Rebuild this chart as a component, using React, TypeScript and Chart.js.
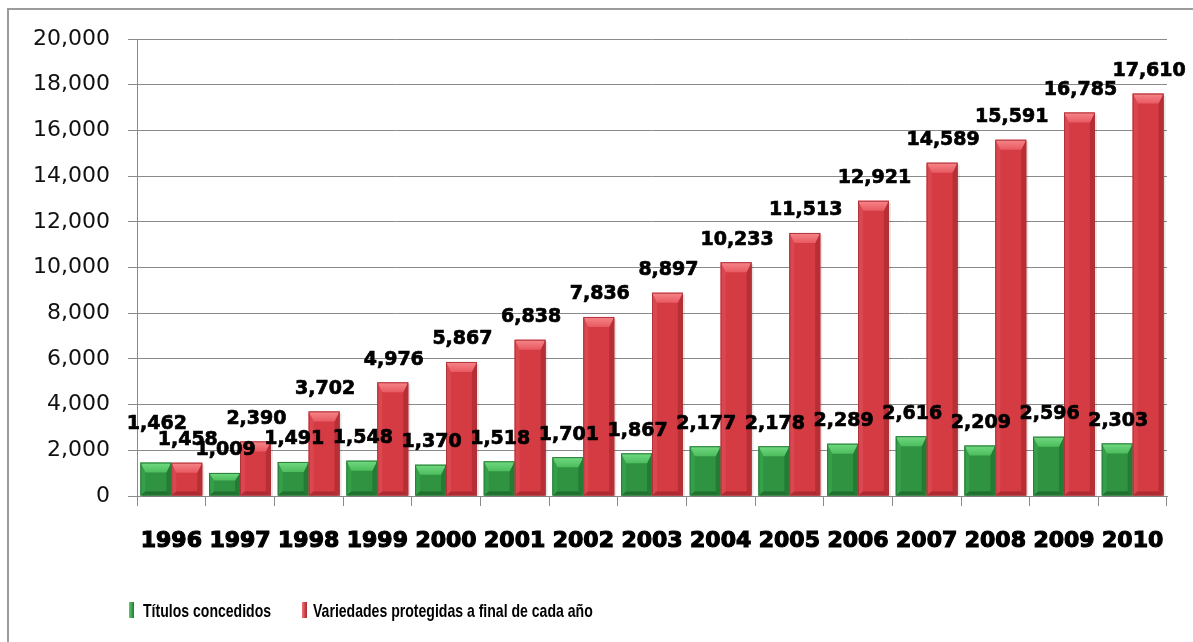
import React, { useEffect, useRef } from "react";
import { Chart, registerables } from "chart.js";

Chart.register(...registerables);

const years = ["1996", "1997", "1998", "1999", "2000", "2001", "2002", "2003", "2004", "2005", "2006", "2007", "2008", "2009", "2010"];
const titulos = [1462, 1009, 1491, 1548, 1370, 1518, 1701, 1867, 2177, 2178, 2289, 2616, 2209, 2596, 2303];
const variedades = [1458, 2390, 3702, 4976, 5867, 6838, 7836, 8897, 10233, 11513, 12921, 14589, 15591, 16785, 17610];
const yTicks = [0, 2000, 4000, 6000, 8000, 10000, 12000, 14000, 16000, 18000, 20000];
const seriesNames = ["Títulos concedidos", "Variedades protegidas a final de cada año"];

const GREEN = "#2f9342";
const RED = "#d43b43";
const shades = [
  { top: "#72da82", topEnd: "#4cbd5d", left: "#35a04a", right: "#247c34", bottom: "#216f2f", edge: "#2a7d38" },
  { top: "#f6878b", topEnd: "#e85a61", left: "#da4750", right: "#b82e35", bottom: "#ad2a31", edge: "#b0333a" },
];

const fmt = (v: number) => v.toLocaleString("en-US");

const bevelPlugin = {
  id: "bevel",
  beforeDatasetsDraw(chart: any) {
    const ctx = chart.ctx;
    ctx.save();
    chart.data.datasets.forEach((_: any, di: number) => {
      const meta = chart.getDatasetMeta(di);
      meta.data.forEach((bar: any) => {
        const l = bar.x - bar.width / 2;
        const t = bar.y;
        ctx.fillStyle = "rgba(0,0,0,0.10)";
        ctx.fillRect(l + 2, t + 2, bar.width, bar.base - t - 1);
      });
    });
    ctx.restore();
  },
  afterDatasetsDraw(chart: any) {
    const ctx = chart.ctx;
    ctx.save();
    chart.data.datasets.forEach((_: any, di: number) => {
      const meta = chart.getDatasetMeta(di);
      const s = shades[di];
      meta.data.forEach((bar: any) => {
        const l = bar.x - bar.width / 2;
        const r = bar.x + bar.width / 2;
        const t = bar.y;
        const b = bar.base;
        const ins = 5;
        const th = Math.min(10, (b - t) / 3);
        const bh = Math.min(4, (b - t) / 4);
        const poly = (pts: number[][], color: any) => {
          ctx.beginPath();
          ctx.moveTo(pts[0][0], pts[0][1]);
          for (let i = 1; i < pts.length; i++) ctx.lineTo(pts[i][0], pts[i][1]);
          ctx.closePath();
          ctx.fillStyle = color;
          ctx.fill();
        };
        poly([[l, t], [l + ins, t + th], [l + ins, b - bh], [l, b]], s.left);
        poly([[r, t], [r - ins, t + th], [r - ins, b - bh], [r, b]], s.right);
        poly([[l, b], [l + ins, b - bh], [r - ins, b - bh], [r, b]], s.bottom);
        const g = ctx.createLinearGradient(0, t, 0, t + th);
        g.addColorStop(0, s.top);
        g.addColorStop(1, s.topEnd);
        poly([[l, t], [r, t], [r - ins, t + th], [l + ins, t + th]], g);
        ctx.strokeStyle = s.edge;
        ctx.lineWidth = 1;
        ctx.strokeRect(l + 0.5, t + 0.5, r - l - 1, b - t - 1);
      });
    });
    ctx.restore();
  },
};

const labelPlugin = {
  id: "valueLabels",
  afterDraw(chart: any) {
    const ctx = chart.ctx;
    ctx.save();
    ctx.font = "bold 19px 'DejaVu Sans'";
    ctx.textAlign = "center";
    ctx.textBaseline = "bottom";
    ctx.fillStyle = "#000";
    ctx.strokeStyle = "#000";
    ctx.lineWidth = 0.7;
    const m0 = chart.getDatasetMeta(0);
    const m1 = chart.getDatasetMeta(1);
    const gap = 13;
    const draw = (txt: string, x: number, y: number) => {
      ctx.fillText(txt, x, y);
      ctx.strokeText(txt, x, y);
    };
    m1.data.forEach((bar: any, i: number) => {
      const v = chart.data.datasets[1].data[i];
      draw(fmt(v), bar.x + 1, bar.y - gap);
    });
    m0.data.forEach((bar: any, i: number) => {
      const v = chart.data.datasets[0].data[i];
      let y = bar.y - gap;
      const ry = m1.data[i].y - gap;
      if (Math.abs(y - ry) < 16) y = Math.min(y, ry - 16);
      draw(fmt(v), bar.x + 1, y);
    });
    ctx.restore();
  },
};

export default function App() {
  const ref = useRef<HTMLCanvasElement>(null);
  useEffect(() => {
    if (!ref.current) return;
    const chart = new Chart(ref.current, {
      type: "bar",
      data: {
        labels: years,
        datasets: [
          { label: seriesNames[0], data: titulos, backgroundColor: GREEN, borderWidth: 0, barPercentage: 1, categoryPercentage: 0.9 },
          { label: seriesNames[1], data: variedades, backgroundColor: RED, borderWidth: 0, barPercentage: 1, categoryPercentage: 0.9 },
        ],
      },
      options: {
        responsive: false,
        animation: false,
        layout: { padding: { top: 39, right: 26, left: 0, bottom: 0 } },
        plugins: { legend: { display: false }, tooltip: { enabled: false } },
        scales: {
          x: {
            offset: true,
            grid: { display: true, drawOnChartArea: false, drawTicks: true, tickLength: 10, color: "#8a8a8a", offset: true },
            border: { display: true, color: "#8a8a8a" },
            ticks: {
              color: "#000",
              padding: 22,
              font: { family: "'DejaVu Sans'", weight: "bold", size: 22 },
              textStrokeColor: "#000",
              textStrokeWidth: 1.2,
              maxRotation: 0,
              autoSkip: false,
            },
            afterFit: (s: any) => { s.height = 146; },
          },
          y: {
            min: 0,
            max: 20000,
            afterBuildTicks: (s: any) => { s.ticks = yTicks.map((v) => ({ value: v })); },
            ticks: { color: "#111", padding: 18, font: { family: "'DejaVu Sans'", size: 22 }, callback: (v: any) => fmt(Number(v)) },
            grid: { color: "#8a8a8a", tickLength: 9 },
            border: { color: "#8a8a8a" },
            afterFit: (s: any) => { s.width = 137; },
          },
        },
      },
      plugins: [bevelPlugin, labelPlugin],
    } as any);
    return () => chart.destroy();
  }, []);

  const legendText: React.CSSProperties = {
    position: "absolute",
    top: 601,
    fontFamily: "'Liberation Sans', Arial, sans-serif",
    fontWeight: "bold",
    fontSize: 19,
    lineHeight: "19px",
    color: "#000",
    whiteSpace: "nowrap",
    transform: "scaleX(0.74)",
    transformOrigin: "left top",
  };
  const marker = (c1: string, c2: string, left: number): React.CSSProperties => ({
    position: "absolute",
    top: 602,
    left,
    width: 5,
    height: 16,
    background: `linear-gradient(to right, ${c1}, ${c2})`,
  });

  return (
    <div style={{ position: "fixed", left: 0, top: 0, width: 1193, height: 642, overflow: "hidden", background: "#fff" }}>
      <div style={{ position: "absolute", left: 7, top: 8, width: 1400, height: 900, border: "2px solid #9b9b9b" }} />
      <canvas ref={ref} width={1193} height={642} style={{ position: "absolute", left: 0, top: 0 }} />
      <div style={marker("#5ccc6c", "#227a33", 129)} />
      <div style={{ ...legendText, left: 143 }}>{seriesNames[0]}</div>
      <div style={marker("#f27479", "#a8262d", 302)} />
      <div style={{ ...legendText, left: 313 }}>{seriesNames[1]}</div>
    </div>
  );
}
